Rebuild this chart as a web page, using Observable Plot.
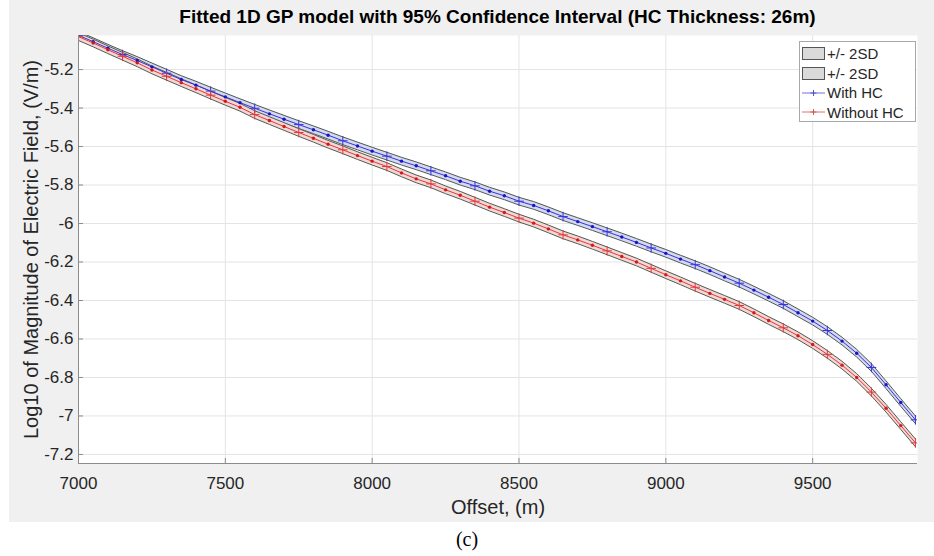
<!DOCTYPE html>
<html>
<head>
<meta charset="utf-8">
<script src="https://cdn.jsdelivr.net/npm/d3@7"></script>
<script src="https://cdn.jsdelivr.net/npm/@observablehq/plot@0.6"></script>
<style>
  html, body { margin: 0; padding: 0; background: #ffffff; }
  body { width: 934px; height: 556px; position: relative; overflow: hidden; font-family: "Liberation Sans", Arial, sans-serif; }
  #fig { position: absolute; left: 9px; top: 0; width: 925px; height: 522px; background: #f0f0f0; }
  #title { position: absolute; left: 78px; width: 839px; top: 5px; line-height: 24px; text-align: center; font-weight: bold; font-size: 19px; color: #000; }
  #legend { position: absolute; left: 799px; top: 41px; width: 117px; height: 81px; background: #fff; border: 1px solid #a8a8a8; box-sizing: border-box; font-size: 15px; color: #262626; padding-top: 2px; }
  #legend .row { height: 19.5px; display: flex; align-items: center; }
  #legend .patch { display: inline-block; width: 21px; height: 11px; background: #dadada; border: 1px solid #555; margin-left: 2px; margin-right: 2px; }
  #legend svg { margin-left: 2px; margin-right: 2px; }
  #cap { position: absolute; left: 0; width: 934px; top: 528px; text-align: center; font-family: "Liberation Serif", "Times New Roman", serif; font-size: 20px; color: #000; }
</style>
</head>
<body>
<div id="fig"></div>
<div id="title">Fitted 1D GP model with 95% Confidence Interval (HC Thickness: 26m)</div>
<div id="legend">
  <div class="row"><span class="patch"></span>+/- 2SD</div>
  <div class="row"><span class="patch"></span>+/- 2SD</div>
  <div class="row"><svg width="23" height="10"><line x1="0" y1="5" x2="23" y2="5" stroke="#7070dc" stroke-width="1"/><path d="M11.5,2V8M8.5,5H14.5" stroke="#5050d0" stroke-width="1"/></svg>With HC</div>
  <div class="row"><svg width="23" height="10"><line x1="0" y1="5" x2="23" y2="5" stroke="#e07070" stroke-width="1"/><path d="M11.5,2V8M8.5,5H14.5" stroke="#d85050" stroke-width="1"/></svg>Without HC</div>
</div>
<div id="cap">(c)</div>
<script>
// ---- data ----
const offsets = [7000, 7050, 7100, 7150, 7200, 7250, 7300, 7350, 7400, 7450,
                 7500, 7550, 7600, 7650, 7700, 7750, 7800, 7850, 7900, 7950,
                 8000, 8050, 8100, 8150, 8200, 8250, 8300, 8350, 8400, 8450,
                 8500, 8550, 8600, 8650, 8700, 8750, 8800, 8850, 8900, 8950,
                 9000, 9050, 9100, 9150, 9200, 9250, 9300, 9350, 9400, 9450,
                 9500, 9550, 9600, 9650, 9700, 9750, 9800, 9850];
const withHC = [-5.022, -5.055, -5.089, -5.122, -5.153, -5.186, -5.219, -5.252, -5.281, -5.312,
                -5.342, -5.372, -5.401, -5.430, -5.458, -5.486, -5.513, -5.541, -5.570, -5.597,
                -5.624, -5.650, -5.676, -5.700, -5.726, -5.752, -5.780, -5.804, -5.832, -5.856,
                -5.884, -5.906, -5.934, -5.964, -5.990, -6.016, -6.043, -6.070, -6.098, -6.127,
                -6.155, -6.185, -6.214, -6.245, -6.278, -6.310, -6.346, -6.383, -6.421, -6.464,
                -6.507, -6.556, -6.611, -6.674, -6.748, -6.838, -6.930, -7.020];
const withoutHC = [-5.029, -5.062, -5.097, -5.131, -5.165, -5.202, -5.235, -5.268, -5.300, -5.333,
                   -5.365, -5.396, -5.434, -5.465, -5.496, -5.527, -5.557, -5.588, -5.617, -5.647,
                   -5.676, -5.704, -5.737, -5.768, -5.794, -5.825, -5.853, -5.884, -5.915, -5.943,
                   -5.972, -5.998, -6.028, -6.059, -6.085, -6.113, -6.142, -6.171, -6.200, -6.233,
                   -6.266, -6.298, -6.331, -6.363, -6.394, -6.426, -6.464, -6.504, -6.542, -6.583,
                   -6.629, -6.680, -6.736, -6.800, -6.876, -6.960, -7.050, -7.140];
const twoSD = 0.02;            // half-width of the +/- 2SD band
const xTicks = [7000, 7500, 8000, 8500, 9000, 9500];
const yTicks = [-7.2, -7, -6.8, -6.6, -6.4, -6.2, -6, -5.8, -5.6, -5.4, -5.2];
const xDomain = [7000, 9857];
const yDomain = [-7.247, -5.023];

const series = [
  {name: "With HC", values: withHC, line: "#3434d8", dot: "#1414c8", fill: "#d5d8f0"},
  {name: "Without HC", values: withoutHC, line: "#e03a3a", dot: "#d81818", fill: "#f3d6d6"}
];
const edge = "#4f5c4f";

const marks = [
  Plot.frame({fill: "#ffffff", stroke: null}),
  Plot.gridX(xTicks, {stroke: "#e4e4e4", strokeOpacity: 1}),
  Plot.gridY(yTicks, {stroke: "#e4e4e4", strokeOpacity: 1})
];
for (const s of series) {
  const rows = offsets.map((x, i) => ({x, y: s.values[i], i}));
  marks.push(
    Plot.areaY(rows, {x: "x", y1: d => d.y - twoSD, y2: d => d.y + twoSD, fill: s.fill, clip: true}),
    Plot.lineY(rows, {x: "x", y: d => d.y + twoSD, stroke: edge, strokeWidth: 1, clip: true}),
    Plot.lineY(rows, {x: "x", y: d => d.y - twoSD, stroke: edge, strokeWidth: 1, clip: true})
  );
}
for (const s of series) {
  const rows = offsets.map((x, i) => ({x, y: s.values[i], i}));
  marks.push(
    Plot.lineY(rows, {x: "x", y: "y", stroke: s.line, strokeWidth: 1, clip: true}),
    Plot.dot(rows.filter(d => d.i % 3 !== 0), {x: "x", y: "y", r: 1.7, fill: s.dot, stroke: null, clip: true}),
    Plot.dot(rows.filter(d => d.i % 3 === 0), {x: "x", y: "y", symbol: "plus", r: 3.2, stroke: s.line, strokeWidth: 1, clip: true})
  );
}
marks.push(
  Plot.ruleX([xDomain[0]], {stroke: "#8c8c8c"}),
  Plot.ruleY([yDomain[0]], {stroke: "#8c8c8c"}),
  Plot.axisX(xTicks, {tickSize: -5, tickPadding: 18, stroke: "#8c8c8c", fill: "#262626",
    tickFormat: d => String(d), label: null}),
  Plot.axisX({ticks: [], tickSize: 0, label: "Offset, (m)", labelAnchor: "center", labelOffset: 50, labelArrow: "none", fontSize: 20, fill: "#262626"}),
  Plot.axisY(yTicks, {tickSize: -5, tickPadding: 10, stroke: "#8c8c8c", fill: "#262626",
    tickFormat: d => String(+d.toFixed(1)), label: null}),
  Plot.axisY({ticks: [], tickSize: 0, label: "Log10 of Magnitude of Electric Field, (V/m)",
    labelAnchor: "center", labelOffset: 55, labelArrow: "none", fontSize: 20, fill: "#262626"})
);

const chart = Plot.plot({
  width: 925,
  height: 522,
  marginLeft: 69,
  marginRight: 17,
  marginTop: 35,
  marginBottom: 59,
  style: {background: "transparent", fontFamily: "'Liberation Sans', Arial, sans-serif", fontSize: "17px", color: "#262626", overflow: "visible"},
  x: {domain: xDomain},
  y: {domain: yDomain},
  marks
});
document.getElementById("fig").appendChild(chart);
</script>
</body>
</html>
